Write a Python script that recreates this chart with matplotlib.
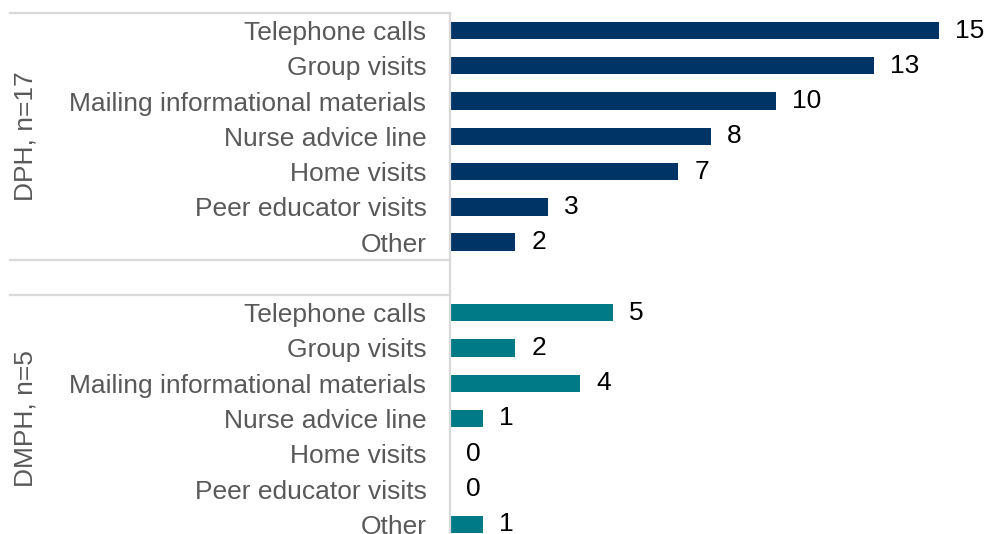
import matplotlib
matplotlib.use("Agg")
import matplotlib.pyplot as plt
import matplotlib.transforms as mtransforms

plt.rcParams['font.family'] = ['Liberation Sans', 'DejaVu Sans']

categories = ["Telephone calls", "Group visits", "Mailing informational materials",
              "Nurse advice line", "Home visits", "Peer educator visits", "Other"]
dph_values = [15, 13, 10, 8, 7, 3, 2]
dmph_values = [5, 2, 4, 1, 0, 0, 1]
groups = ["DPH, n=17", "DMPH, n=5"]
colors = ["#003466", "#007A86"]

fig = plt.figure(figsize=(9.85, 5.34), dpi=100)
# axes placed in pixels: bars start at x=450px, rows span 12.9px..541.9px
ax = fig.add_axes([450 / 985, 1 - 541.9 / 534, 535 / 985, 529.0 / 534])

n = len(categories)
pos_dph = list(range(n))
pos_dmph = [i + n + 1 for i in range(n)]

ax.barh(pos_dph, dph_values, height=0.49, color=colors[0])
ax.barh(pos_dmph, dmph_values, height=0.49, color=colors[1])

for p, v in zip(pos_dph + pos_dmph, dph_values + dmph_values):
    ax.annotate(str(v), xy=(v, p), xytext=(11.5, 0), textcoords="offset points",
                ha="left", va="center", fontsize=19, color="black")

ax.set_yticks(pos_dph + pos_dmph)
ax.set_yticklabels(categories + categories)
ax.tick_params(axis="y", length=0, pad=17, labelsize=19, labelcolor="#595959")
ax.set_xticks([])
ax.set_xlim(0, 535 / 32.6)
ax.set_ylim(2 * n + 0.5, -0.5)

for s in ["top", "right", "bottom"]:
    ax.spines[s].set_visible(False)
ax.spines["left"].set_color("#D9D9D9")
ax.spines["left"].set_linewidth(1.6)

# group separator lines and rotated group labels
trans = mtransforms.blended_transform_factory(ax.transAxes, ax.transData)
x0 = (10 - 450) / 535
for y in [-0.5, n - 0.5, n + 0.5, 2 * n + 0.5]:
    ax.plot([x0, 0], [y, y], color="#D9D9D9", lw=1.6, transform=trans, clip_on=False)

xlab = (26 - 450) / 535
for g, centre in zip(groups, [(n - 1) / 2, n + 1 + (n - 1) / 2]):
    ax.text(xlab, centre, g, rotation=90, ha="center", va="center",
            fontsize=19, color="#595959", transform=trans)

fig.savefig("out.png", dpi=100)
